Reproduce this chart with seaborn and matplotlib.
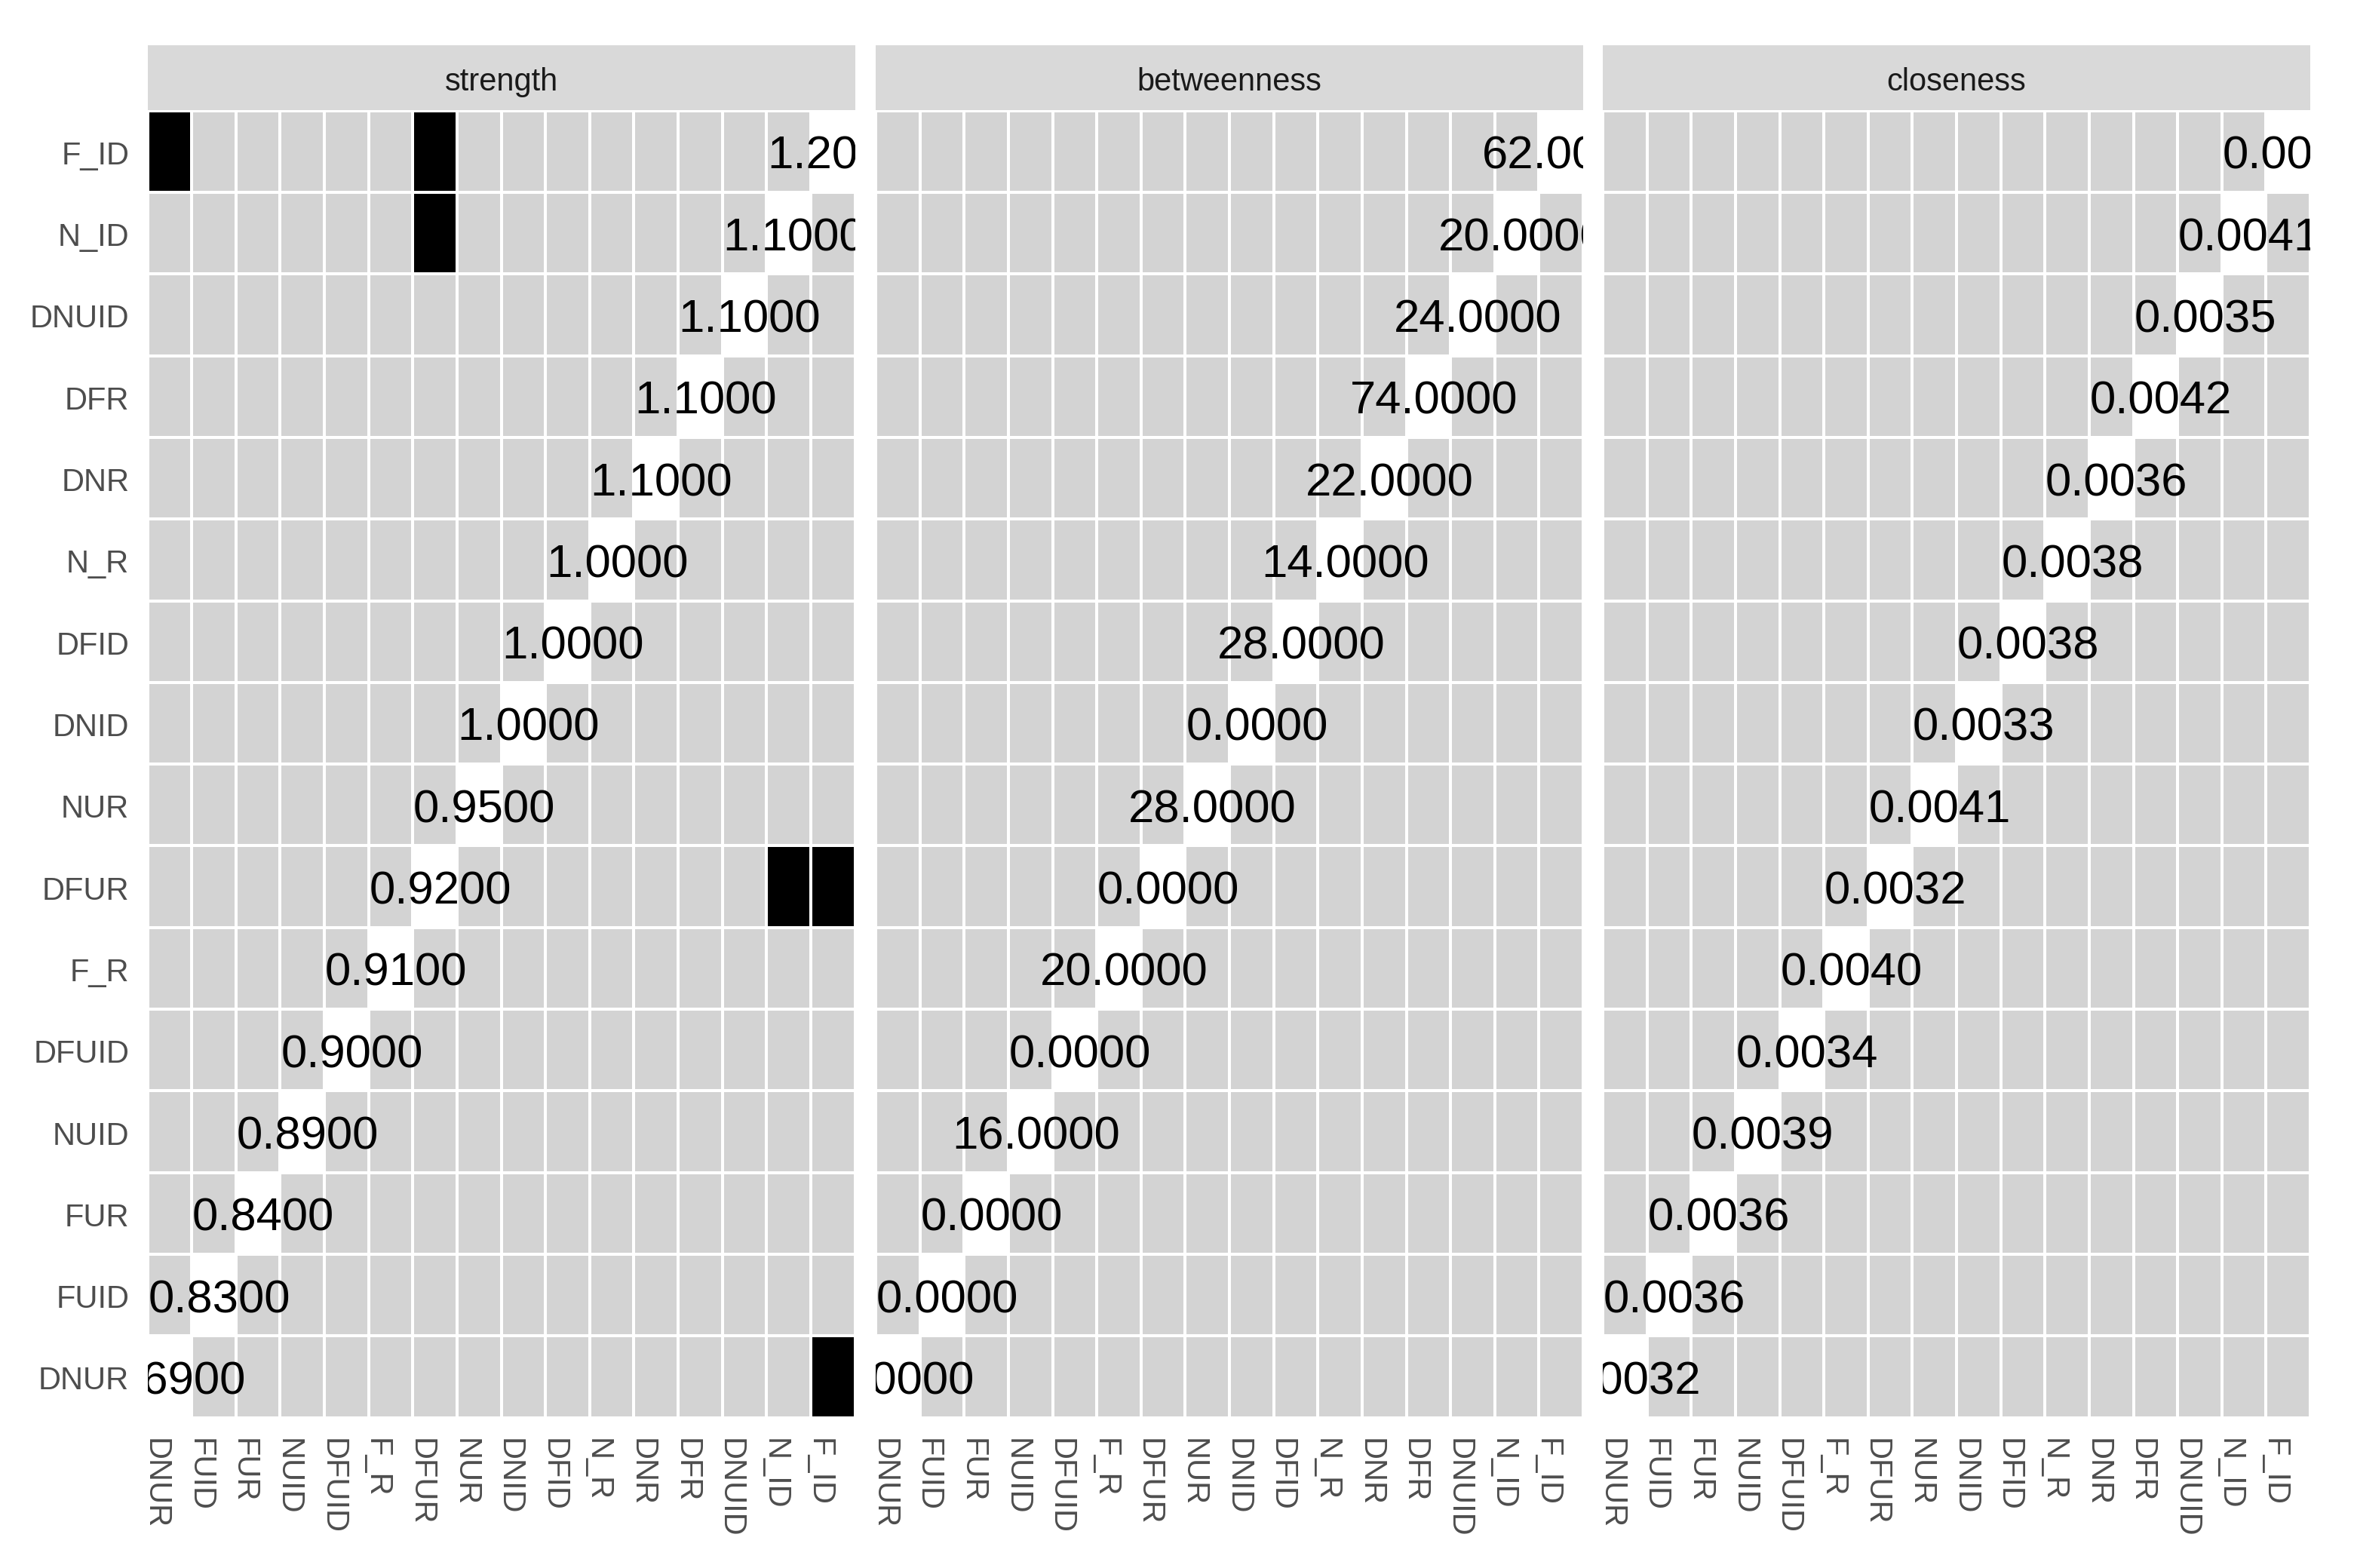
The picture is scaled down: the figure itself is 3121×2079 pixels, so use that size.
"""Centrality difference plot: strength, betweenness, closeness"""
import numpy as np
import pandas as pd
import matplotlib
matplotlib.use("Agg")
import matplotlib.pyplot as plt
import matplotlib.transforms as mtransforms
import seaborn as sns
from matplotlib.colors import ListedColormap

sns.set_style("white")
plt.rcParams['font.family'] = ['Liberation Sans', 'DejaVu Sans']

"""Data"""
# nodes ordered by strength (x axis left to right, y axis bottom to top)
nodes = ["DNUR", "FUID", "FUR", "NUID", "DFUID", "F_R", "DFUR", "NUR",
         "DNID", "DFID", "N_R", "DNR", "DFR", "DNUID", "N_ID", "F_ID"]

strength = [0.69, 0.83, 0.84, 0.89, 0.90, 0.91, 0.92, 0.95,
            1.00, 1.00, 1.00, 1.10, 1.10, 1.10, 1.10, 1.20]
betweenness = [0, 0, 0, 16, 0, 20, 0, 28,
               0, 28, 14, 22, 74, 24, 20, 62]
closeness = [0.0032, 0.0036, 0.0036, 0.0039, 0.0034, 0.0040, 0.0032, 0.0041,
             0.0033, 0.0038, 0.0038, 0.0036, 0.0042, 0.0035, 0.0041, 0.0040]

# pairs of nodes that differ significantly (black tiles)
strength_sig = [("F_ID", "DNUR"), ("F_ID", "DFUR"), ("N_ID", "DFUR")]
betweenness_sig = []
closeness_sig = []

panels = [("strength", strength, strength_sig),
          ("betweenness", betweenness, betweenness_sig),
          ("closeness", closeness, closeness_sig)]


def diff_matrix(sig):
    # 0 = not different, 1 = significant, 2 = diagonal
    m = pd.DataFrame(0, index=nodes[::-1], columns=nodes)
    for a, b in sig:
        m.loc[a, b] = 1
        m.loc[b, a] = 1
    for n in nodes:
        m.loc[n, n] = 2
    return m


def shift(artist, dx, dy):
    # move a text by dx, dy pixels (300 dpi)
    off = mtransforms.ScaledTranslation(dx / 300, dy / 300, fig.dpi_scale_trans)
    artist.set_transform(artist.get_transform() + off)


cmap = ListedColormap(["#D3D3D3", "black", "white"])

W, H = 3121, 2079
fig = plt.figure(figsize=(W / 300, H / 300), dpi=300)

lefts = [195.5, 1161, 2125]
pw = 938
ptop, pbot = 146.7, 1879.6
stop, sbot = 60, 145.5

for k, (name, vals, sig) in enumerate(panels):
    ax = fig.add_axes([lefts[k] / W, 1 - pbot / H, pw / W, (pbot - ptop) / H])
    m = diff_matrix(sig)
    sns.heatmap(m, ax=ax, cmap=cmap, vmin=-0.5, vmax=2.5, cbar=False,
                linewidths=0.5, linecolor="white")

    # value labels on the diagonal
    for i, n in enumerate(m.index):
        j = nodes.index(n)
        ax.text(j + 0.62, i + 0.712, f"{vals[j]:.4f}", ha="center", va="baseline",
                fontsize=14.8, color="black", clip_on=True)

    ax.set_xlabel("")
    ax.set_ylabel("")
    ax.set_xticks(np.arange(len(nodes)) + 0.5)
    ax.set_xticklabels(nodes, rotation=270, ha="center", va="top",
                       fontsize=10, color="#4D4D4D")
    if k == 0:
        ax.set_yticks(np.arange(len(nodes)) + 0.5)
        ax.set_yticklabels(m.index, rotation=0, fontsize=10, color="#4D4D4D")
    else:
        ax.set_yticks([])
    ax.tick_params(axis="x", length=0, pad=6.5)
    ax.tick_params(axis="y", length=0, pad=5.8)

    # small offsets after tick_params (which resets label transforms)
    for lab in ax.get_xticklabels():
        shift(lab, -19, 0)
    for lab in ax.get_yticklabels():
        shift(lab, 0, -6)

    # facet strip
    sax = fig.add_axes([lefts[k] / W, 1 - sbot / H, pw / W, (sbot - stop) / H])
    sax.set_facecolor("#D9D9D9")
    sax.set_xticks([])
    sax.set_yticks([])
    for s in sax.spines.values():
        s.set_visible(False)
    t = sax.text(0.5, 0.5, name, ha="center", va="center", fontsize=10,
                 color="#1A1A1A", transform=sax.transAxes)
    shift(t, 0, -6)

fig.savefig("out.png", dpi=300, facecolor="white")
